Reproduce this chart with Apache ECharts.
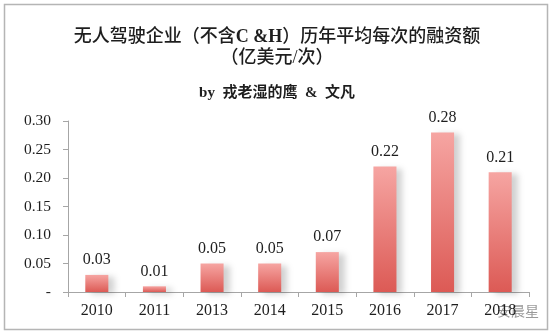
<!DOCTYPE html>
<html>
<head>
<meta charset="utf-8">
<script src="https://cdn.jsdelivr.net/npm/echarts@6/dist/echarts.min.js"></script>
<style>
  html, body { margin: 0; padding: 0; background: #ffffff; }
  #chart { width: 554px; height: 336px; }
</style>
</head>
<body>
<div id="chart"></div>
<script>
// Average financing per round for autonomous-driving companies (excl. C & H), 100M USD
const years = ['2010', '2011', '2013', '2014', '2015', '2016', '2017', '2018'];
const avgPerRound = [0.03, 0.01, 0.05, 0.05, 0.07, 0.22, 0.28, 0.21];
const yTicks = [0, 0.05, 0.10, 0.15, 0.20, 0.25, 0.30];

const titleHead = '无人驾驶企业（不含';
const titleAbbr = 'C &H';
const titleTail = '）历年平均每次的融资额';
const titleUnit = '（亿美元/次）';
const bylineText = 'by  戎老湿的鹰  &  文凡';
const markText = '安晨星';

const serif = '"Liberation Serif", "Noto Sans CJK SC", serif';
const chart = echarts.init(document.getElementById('chart'));

chart.setOption({
  backgroundColor: '#ffffff',
  animation: false,
  title: [
    {
      text: titleHead + '{b|' + titleAbbr + '}' + titleTail + '\n' + titleUnit,
      left: 'center',
      top: 22,
      textStyle: {
        fontFamily: serif,
        fontSize: 18,
        fontWeight: 500,
        color: '#1e1e1e',
        lineHeight: 21,
        rich: {
          b: {
            fontFamily: serif,
            fontSize: 18,
            fontWeight: 'bold',
            color: '#1e1e1e',
            lineHeight: 21
          }
        }
      }
    },
    {
      text: bylineText,
      left: 'center',
      top: 81,
      textStyle: {
        fontFamily: serif,
        fontSize: 15,
        fontWeight: 'bold',
        color: '#1e1e1e'
      }
    }
  ],
  grid: { left: 68, right: 25, top: 121, bottom: 44 },
  xAxis: {
    type: 'category',
    data: years,
    axisLine: { lineStyle: { color: '#a6a6a6', width: 1 } },
    axisTick: { show: true, length: 5, lineStyle: { color: '#a6a6a6' } },
    axisLabel: { fontFamily: serif, fontSize: 16, color: '#1e1e1e', margin: 11 }
  },
  yAxis: {
    type: 'value',
    min: yTicks[0],
    max: yTicks[yTicks.length - 1],
    interval: yTicks[1] - yTicks[0],
    splitLine: { show: false },
    axisLine: { show: true, lineStyle: { color: '#a6a6a6', width: 1 } },
    axisTick: { show: true, length: 5, lineStyle: { color: '#a6a6a6' } },
    axisLabel: {
      fontFamily: serif,
      fontSize: 15.5,
      color: '#1e1e1e',
      margin: 17,
      formatter: v => (Math.abs(v) < 1e-9 ? '-' : v.toFixed(2))
    }
  },
  series: [{
    type: 'bar',
    data: avgPerRound,
    barWidth: '40%',
    itemStyle: {
      color: new echarts.graphic.LinearGradient(0, 0, 0, 1, [
        { offset: 0, color: '#f6a5a2' },
        { offset: 1, color: '#dc5a55' }
      ]),
      shadowColor: 'rgba(0,0,0,0.18)',
      shadowBlur: 6,
      shadowOffsetX: 6,
      shadowOffsetY: 2
    },
    label: {
      show: true,
      position: 'top',
      distance: 7,
      fontFamily: serif,
      fontSize: 16,
      color: '#1e1e1e',
      formatter: p => p.value.toFixed(2)
    }
  }],
  graphic: [
    {
      type: 'rect',
      silent: true,
      shape: { x: 4.5, y: 4.5, width: 543, height: 325 },
      style: { fill: 'none', stroke: '#b5b5b5', lineWidth: 1.5 }
    },
    {
      type: 'text',
      silent: true,
      left: 497,
      top: 304,
      style: {
        text: markText,
        fontFamily: '"Noto Sans CJK SC", sans-serif',
        fontSize: 14,
        fill: 'rgba(120,120,120,0.75)'
      }
    }
  ]
});
</script>
</body>
</html>
